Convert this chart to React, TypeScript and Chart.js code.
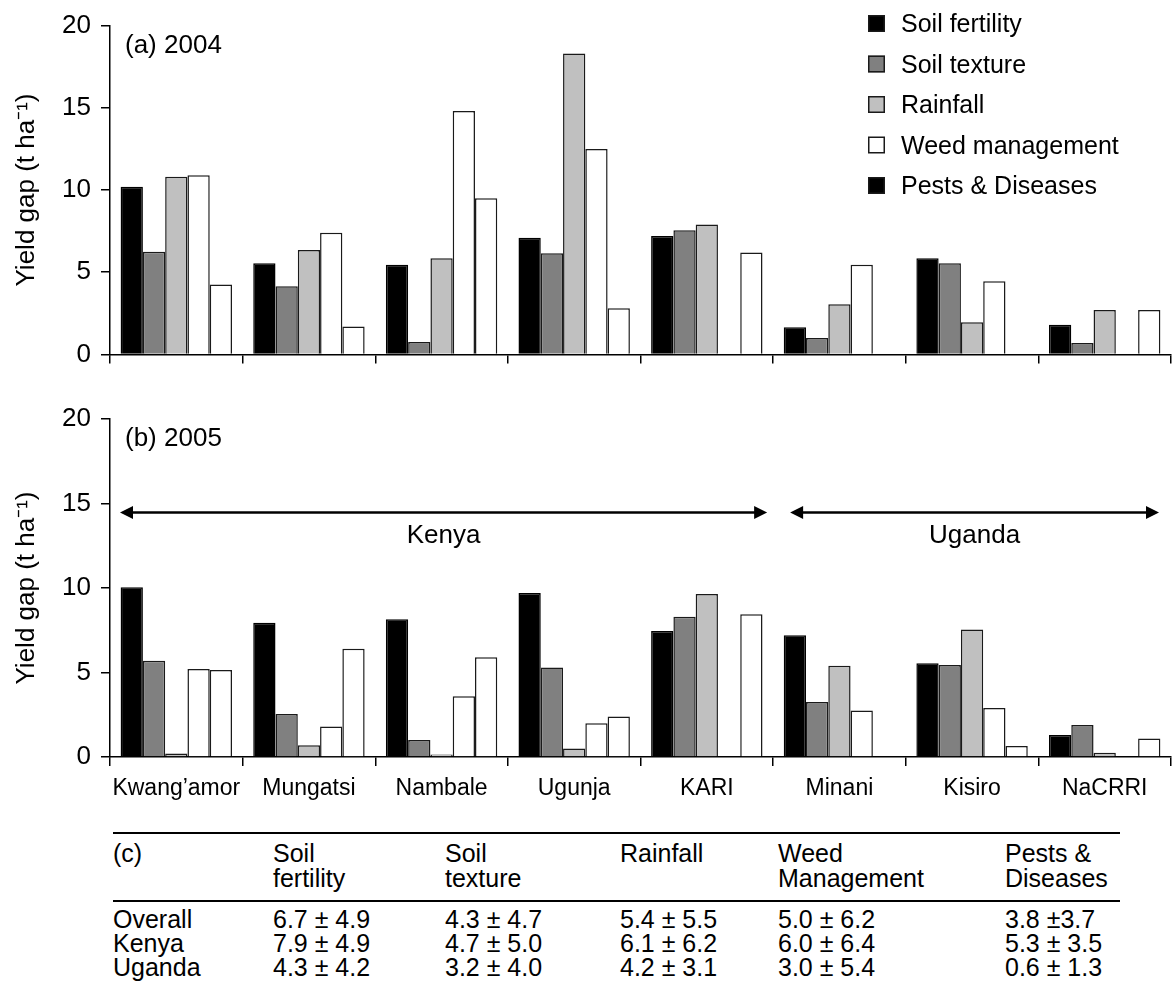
import React, { useEffect, useRef } from "react";
import { Chart, registerables } from "chart.js";

Chart.register(...registerables);

const FONT = '"Liberation Sans", Arial, Helvetica, sans-serif';

// ---------- data ----------
const sites = ["Kwang\u2019amor", "Mungatsi", "Nambale", "Ugunja", "KARI", "Minani", "Kisiro", "NaCRRI"];
const factors = ["Soil fertility", "Soil texture", "Rainfall", "Weed management", "Pests & Diseases"];
const yTicks = [0, 5, 10, 15, 20];

const soilFertility2004 = [10.2, 5.55, 5.45, 7.1, 7.2, 1.65, 5.85, 1.8];
const soilTexture2004 = [6.25, 4.15, 0.75, 6.15, 7.55, 1.0, 5.55, 0.7];
const rainfall2004 = [10.8, 6.35, 5.85, 18.3, 7.9, 3.05, 1.95, 2.7];
const weed2004 = [10.9, 7.4, 14.8, 12.5, null, 5.45, 4.45, null];
const pests2004 = [4.25, 1.7, 9.5, 2.8, 6.2, null, null, 2.7];

const soilFertility2005 = [10.05, 7.95, 8.15, 9.7, 7.45, 7.2, 5.55, 1.3];
const soilTexture2005 = [5.7, 2.55, 1.0, 5.3, 8.3, 3.25, 5.45, 1.9];
const rainfall2005 = [0.2, 0.7, 0.15, 0.5, 9.65, 5.4, 7.55, 0.25];
const weed2005 = [5.2, 1.8, 3.6, 2.0, null, 2.75, 2.9, null];
const pests2005 = [5.15, 6.4, 5.9, 2.4, 8.45, null, 0.65, 1.1];

const countryNames = ["Kenya", "Uganda"];
const countryFirstSite = [0, 5];
const countryLastSite = [4, 7];
const countryArrowLevel = 14.5;

const seriesColors = ["#000000", "#808080", "#c0c0c0", "#ffffff", "#ffffff"];
const legendColors = ["#000000", "#808080", "#c0c0c0", "#ffffff", "#000000"];

const tableRowNames = ["Overall", "Kenya", "Uganda"];
const tableHeaderTop = ["Soil", "Soil", "Rainfall", "Weed", "Pests &"];
const tableHeaderBottom = ["fertility", "texture", "", "Management", "Diseases"];
const tableOverall = ["6.7 \u00b1 4.9", "4.3 \u00b1 4.7", "5.4 \u00b1 5.5", "5.0 \u00b1 6.2", "3.8 \u00b13.7"];
const tableKenya = ["7.9 \u00b1 4.9", "4.7 \u00b1 5.0", "6.1 \u00b1 6.2", "6.0 \u00b1 6.4", "5.3 \u00b1 3.5"];
const tableUganda = ["4.3 \u00b1 4.2", "3.2 \u00b1 4.0", "4.2 \u00b1 3.1", "3.0 \u00b1 5.4", "0.6 \u00b1 1.3"];

// ---------- plugins ----------
const panelLabelPlugin = {
  id: "panelLabel",
  afterDraw(chart: any, _args: any, opts: any) {
    if (!opts || !opts.text) return;
    const { ctx, chartArea } = chart;
    ctx.save();
    ctx.font = `26px ${FONT}`;
    ctx.fillStyle = "#000";
    ctx.textAlign = "left";
    ctx.textBaseline = "alphabetic";
    ctx.fillText(opts.text, chartArea.left + opts.dx, chartArea.top + opts.dy);
    ctx.restore();
  },
};

const boxLegendPlugin = {
  id: "boxLegend",
  afterDraw(chart: any, _args: any, opts: any) {
    if (!opts || !opts.display) return;
    const { ctx } = chart;
    ctx.save();
    ctx.font = `25px ${FONT}`;
    ctx.textAlign = "left";
    ctx.textBaseline = "alphabetic";
    chart.data.datasets.forEach((ds: any, i: number) => {
      const y = opts.top + i * opts.spacing;
      ctx.fillStyle = opts.colors[i];
      ctx.fillRect(opts.left, y, opts.box, opts.box);
      ctx.strokeStyle = "#1a1a1a";
      ctx.lineWidth = 1.5;
      ctx.strokeRect(opts.left + 0.75, y + 0.75, opts.box - 1.5, opts.box - 1.5);
      ctx.fillStyle = "#000";
      ctx.fillText(ds.label, opts.left + opts.box + opts.gap, y + opts.box);
    });
    ctx.restore();
  },
};

const countryPlugin = {
  id: "countries",
  afterDatasetsDraw(chart: any, _args: any, opts: any) {
    if (!opts || !opts.names) return;
    const { ctx } = chart;
    const xs = chart.scales.x;
    const ys = chart.scales.y;
    const half = (xs.getPixelForValue(1) - xs.getPixelForValue(0)) / 2;
    const yy = Math.round(ys.getPixelForValue(opts.level)) + 0.5;
    ctx.save();
    opts.names.forEach((name: string, i: number) => {
      const x0 = xs.getPixelForValue(opts.first[i]) - half + opts.insetStart[i];
      const x1 = xs.getPixelForValue(opts.last[i]) + half - opts.insetEnd[i];
      const hl = 13;
      const hw = 6.5;
      ctx.strokeStyle = "#000";
      ctx.fillStyle = "#000";
      ctx.lineWidth = 2.5;
      ctx.beginPath();
      ctx.moveTo(x0 + hl - 1, yy);
      ctx.lineTo(x1 - hl + 1, yy);
      ctx.stroke();
      ctx.beginPath();
      ctx.moveTo(x0, yy);
      ctx.lineTo(x0 + hl, yy - hw);
      ctx.lineTo(x0 + hl, yy + hw);
      ctx.closePath();
      ctx.fill();
      ctx.beginPath();
      ctx.moveTo(x1, yy);
      ctx.lineTo(x1 - hl, yy - hw);
      ctx.lineTo(x1 - hl, yy + hw);
      ctx.closePath();
      ctx.fill();
      ctx.font = `26px ${FONT}`;
      ctx.textAlign = "center";
      ctx.textBaseline = "middle";
      ctx.fillText(name, (x0 + x1) / 2, yy + opts.textOffset);
    });
    ctx.restore();
  },
};

// ---------- chart config ----------
function makeConfig(series: (number | null)[][], o: any) {
  return {
    type: "bar",
    data: {
      labels: sites,
      datasets: factors.map((f, i) => ({
        label: f,
        data: series[i],
        backgroundColor: seriesColors[i],
        borderColor: i === 0 ? "#000000" : "#1a1a1a",
        borderWidth: 1.5,
        borderSkipped: "start",
        categoryPercentage: 0.84,
        barPercentage: 1.0,
      })),
    },
    plugins: [panelLabelPlugin, boxLegendPlugin, countryPlugin],
    options: {
      responsive: false,
      animation: false,
      events: [],
      layout: { padding: { top: o.padTop, right: 1, left: 0, bottom: 0 } },
      scales: {
        x: {
          grid: {
            offset: true,
            drawOnChartArea: false,
            drawTicks: true,
            tickLength: 9,
            color: "#000",
            lineWidth: 1.5,
          },
          border: { display: true, color: "#000", width: 1.5 },
          ticks: {
            display: o.showLabels,
            color: "#000",
            font: { family: FONT, size: 23 },
            padding: o.labelPad,
            maxRotation: 0,
            autoSkip: false,
          },
          afterFit: (s: any) => {
            s.height = o.xHeight;
          },
        },
        y: {
          min: 0,
          max: 20,
          afterBuildTicks: (s: any) => {
            s.ticks = yTicks.map((v) => ({ value: v }));
          },
          ticks: { color: "#000", font: { family: FONT, size: 26 }, padding: 10 },
          grid: {
            drawOnChartArea: false,
            drawTicks: true,
            tickLength: 9,
            color: "#000",
            lineWidth: 1.5,
          },
          border: { display: true, color: "#000", width: 1.5 },
          title: {
            display: true,
            text: "Yield gap (t ha\u207b\u00b9)",
            color: "#000",
            font: { family: FONT, size: 26, lineHeight: 1.2 },
            padding: { top: 11, bottom: 0 },
          },
          afterFit: (s: any) => {
            s.width = 110;
          },
        },
      },
      plugins: {
        legend: { display: false },
        tooltip: { enabled: false },
        panelLabel: { text: o.panel, dx: 15, dy: 27 },
        boxLegend: o.legend
          ? { display: true, left: 868, top: 15, box: 17, spacing: 40.5, gap: 16, colors: legendColors }
          : { display: false },
        countries: o.countries
          ? {
              names: countryNames,
              first: countryFirstSite,
              last: countryLastSite,
              level: countryArrowLevel,
              insetStart: [10, 17],
              insetEnd: [6, 12],
              textOffset: 23,
            }
          : {},
      },
    },
  };
}

function Panel(props: { series: (number | null)[][]; opts: any; top: number; height: number }) {
  const ref = useRef<HTMLCanvasElement | null>(null);
  useEffect(() => {
    if (!ref.current) return;
    const chart = new Chart(ref.current, makeConfig(props.series, props.opts) as any);
    return () => chart.destroy();
  }, []);
  return (
    <canvas
      ref={ref}
      width={1172}
      height={props.height}
      style={{ position: "absolute", left: 0, top: props.top, width: 1172, height: props.height }}
    />
  );
}

const colLefts = [0, 160, 332, 507, 665, 892];

function StatsTable() {
  const cell: React.CSSProperties = {
    padding: 0,
    textAlign: "left",
    verticalAlign: "top",
    fontWeight: "normal",
    whiteSpace: "nowrap",
  };
  const widths = colLefts.map((l, i) => (i < colLefts.length - 1 ? colLefts[i + 1] - l : 1007 - l));
  const bodies = [tableOverall, tableKenya, tableUganda];
  return (
    <table
      style={{
        position: "absolute",
        left: 113,
        top: 832,
        width: 1007,
        borderCollapse: "collapse",
        tableLayout: "fixed",
        fontFamily: FONT,
        fontSize: 25,
        color: "#000",
      }}
    >
      <colgroup>
        {widths.map((w, i) => (
          <col key={i} style={{ width: w }} />
        ))}
      </colgroup>
      <thead>
        <tr style={{ borderTop: "2px solid #000", borderBottom: "2px solid #000" }}>
          <th style={{ ...cell, lineHeight: "25px", paddingTop: 7, paddingBottom: 9 }}>(c)</th>
          {tableHeaderTop.map((h, i) => (
            <th key={i} style={{ ...cell, lineHeight: "25px", paddingTop: 7, paddingBottom: 9 }}>
              {h}
              <br />
              {tableHeaderBottom[i] || "\u00a0"}
            </th>
          ))}
        </tr>
      </thead>
      <tbody>
        {tableRowNames.map((r, ri) => (
          <tr key={r}>
            <td style={{ ...cell, lineHeight: "24px", paddingTop: ri === 0 ? 5 : 0 }}>{r}</td>
            {bodies[ri].map((v, ci) => (
              <td key={ci} style={{ ...cell, lineHeight: "24px", paddingTop: ri === 0 ? 5 : 0 }}>
                {v}
              </td>
            ))}
          </tr>
        ))}
      </tbody>
    </table>
  );
}

export default function App() {
  const s2004 = [soilFertility2004, soilTexture2004, rainfall2004, weed2004, pests2004];
  const s2005 = [soilFertility2005, soilTexture2005, rainfall2005, weed2005, pests2005];
  return (
    <div
      style={{
        position: "absolute",
        left: 0,
        top: 0,
        width: 1172,
        height: 990,
        background: "#fff",
        overflow: "hidden",
      }}
    >
      <Panel
        series={s2004}
        top={0}
        height={380}
        opts={{ panel: "(a) 2004", legend: true, countries: false, showLabels: false, xHeight: 17, padTop: 24, labelPad: 8 }}
      />
      <Panel
        series={s2005}
        top={390}
        height={430}
        opts={{ panel: "(b) 2005", legend: false, countries: true, showLabels: true, xHeight: 63, padTop: 29, labelPad: 9 }}
      />
      <StatsTable />
    </div>
  );
}
